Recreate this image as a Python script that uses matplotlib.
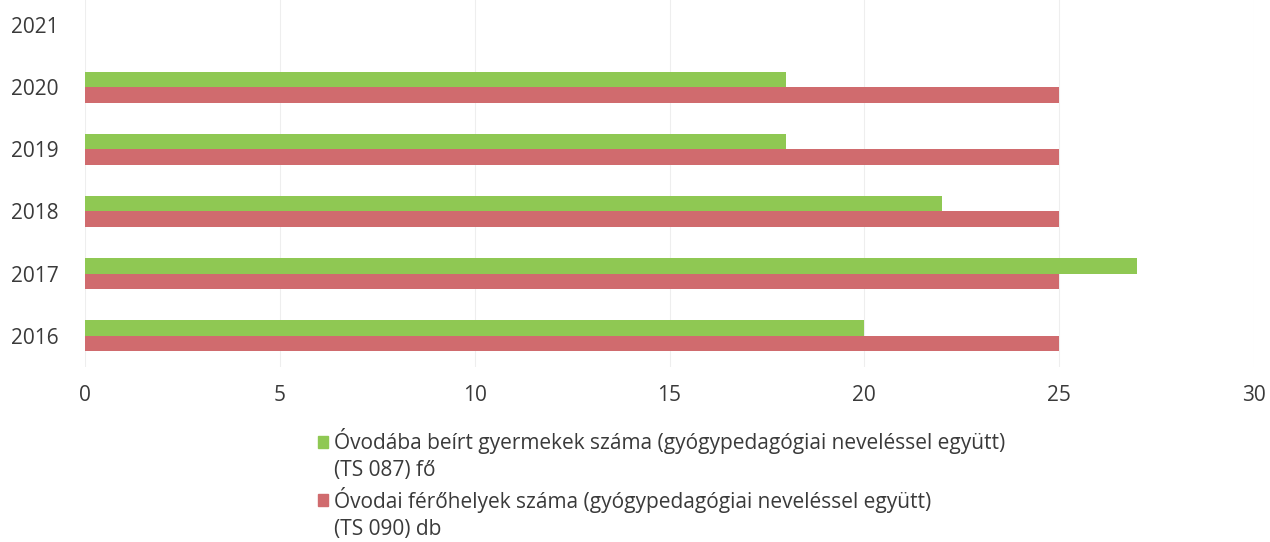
import matplotlib
matplotlib.use("Agg")
import matplotlib.pyplot as plt
from matplotlib.patches import Patch
import numpy as np

years = ["2016", "2017", "2018", "2019", "2020", "2021"]
enrolled = [20, 27, 22, 18, 18, np.nan]
places = [25, 25, 25, 25, 25, np.nan]
label_enrolled = ["Óvodába beírt gyermekek száma (gyógypedagógiai neveléssel együtt)", "(TS 087) fő"]
label_places = ["Óvodai férőhelyek száma (gyógypedagógiai neveléssel együtt)", "(TS 090) db"]
xticks = [0, 5, 10, 15, 20, 25, 30]

green = "#8fc853"
red = "#d06b6e"
text_col = "#3a3a3a"

plt.rcParams['font.family'] = ['Open Sans', 'DejaVu Sans']

fig = plt.figure(figsize=(12.7, 5.42), dpi=100)
ax = fig.add_axes([85/1270, 1 - 367/542, (1254 - 85)/1270, 367/542])

y = np.arange(len(years))
h = 0.25
ax.barh(y + h/2, enrolled, height=h, color=green, zorder=3)
ax.barh(y - h/2, places, height=h, color=red, zorder=3)

ax.set_xlim(0, 30)
ax.set_ylim(-0.5, 5.4)
ax.set_xticks(xticks)
ax.set_xticklabels([str(t) for t in xticks])
ax.set_yticks(y)
ax.set_yticklabels(years)
ax.tick_params(axis='both', length=0, labelsize=15, colors=text_col)
ax.tick_params(axis='x', pad=13)
ax.tick_params(axis='y', pad=19)
for s in ax.spines.values():
    s.set_visible(False)
ax.grid(axis='x', color='#eeeeee', linewidth=0.8, zorder=0)

handles = [Patch(color=green), Patch(color='none'), Patch(color=red), Patch(color='none')]
labels = [label_enrolled[0], label_enrolled[1], label_places[0], label_places[1]]
leg = fig.legend(handles, labels, loc='upper left', bbox_to_anchor=(318/1270, 1 - 428/542),
                 frameon=False, fontsize=15, handlelength=0.5, handleheight=0.5,
                 handletextpad=0.25, labelspacing=0.28, borderaxespad=0, borderpad=0)
for t in leg.get_texts():
    t.set_color(text_col)

fig.savefig("out.png", dpi=100)
